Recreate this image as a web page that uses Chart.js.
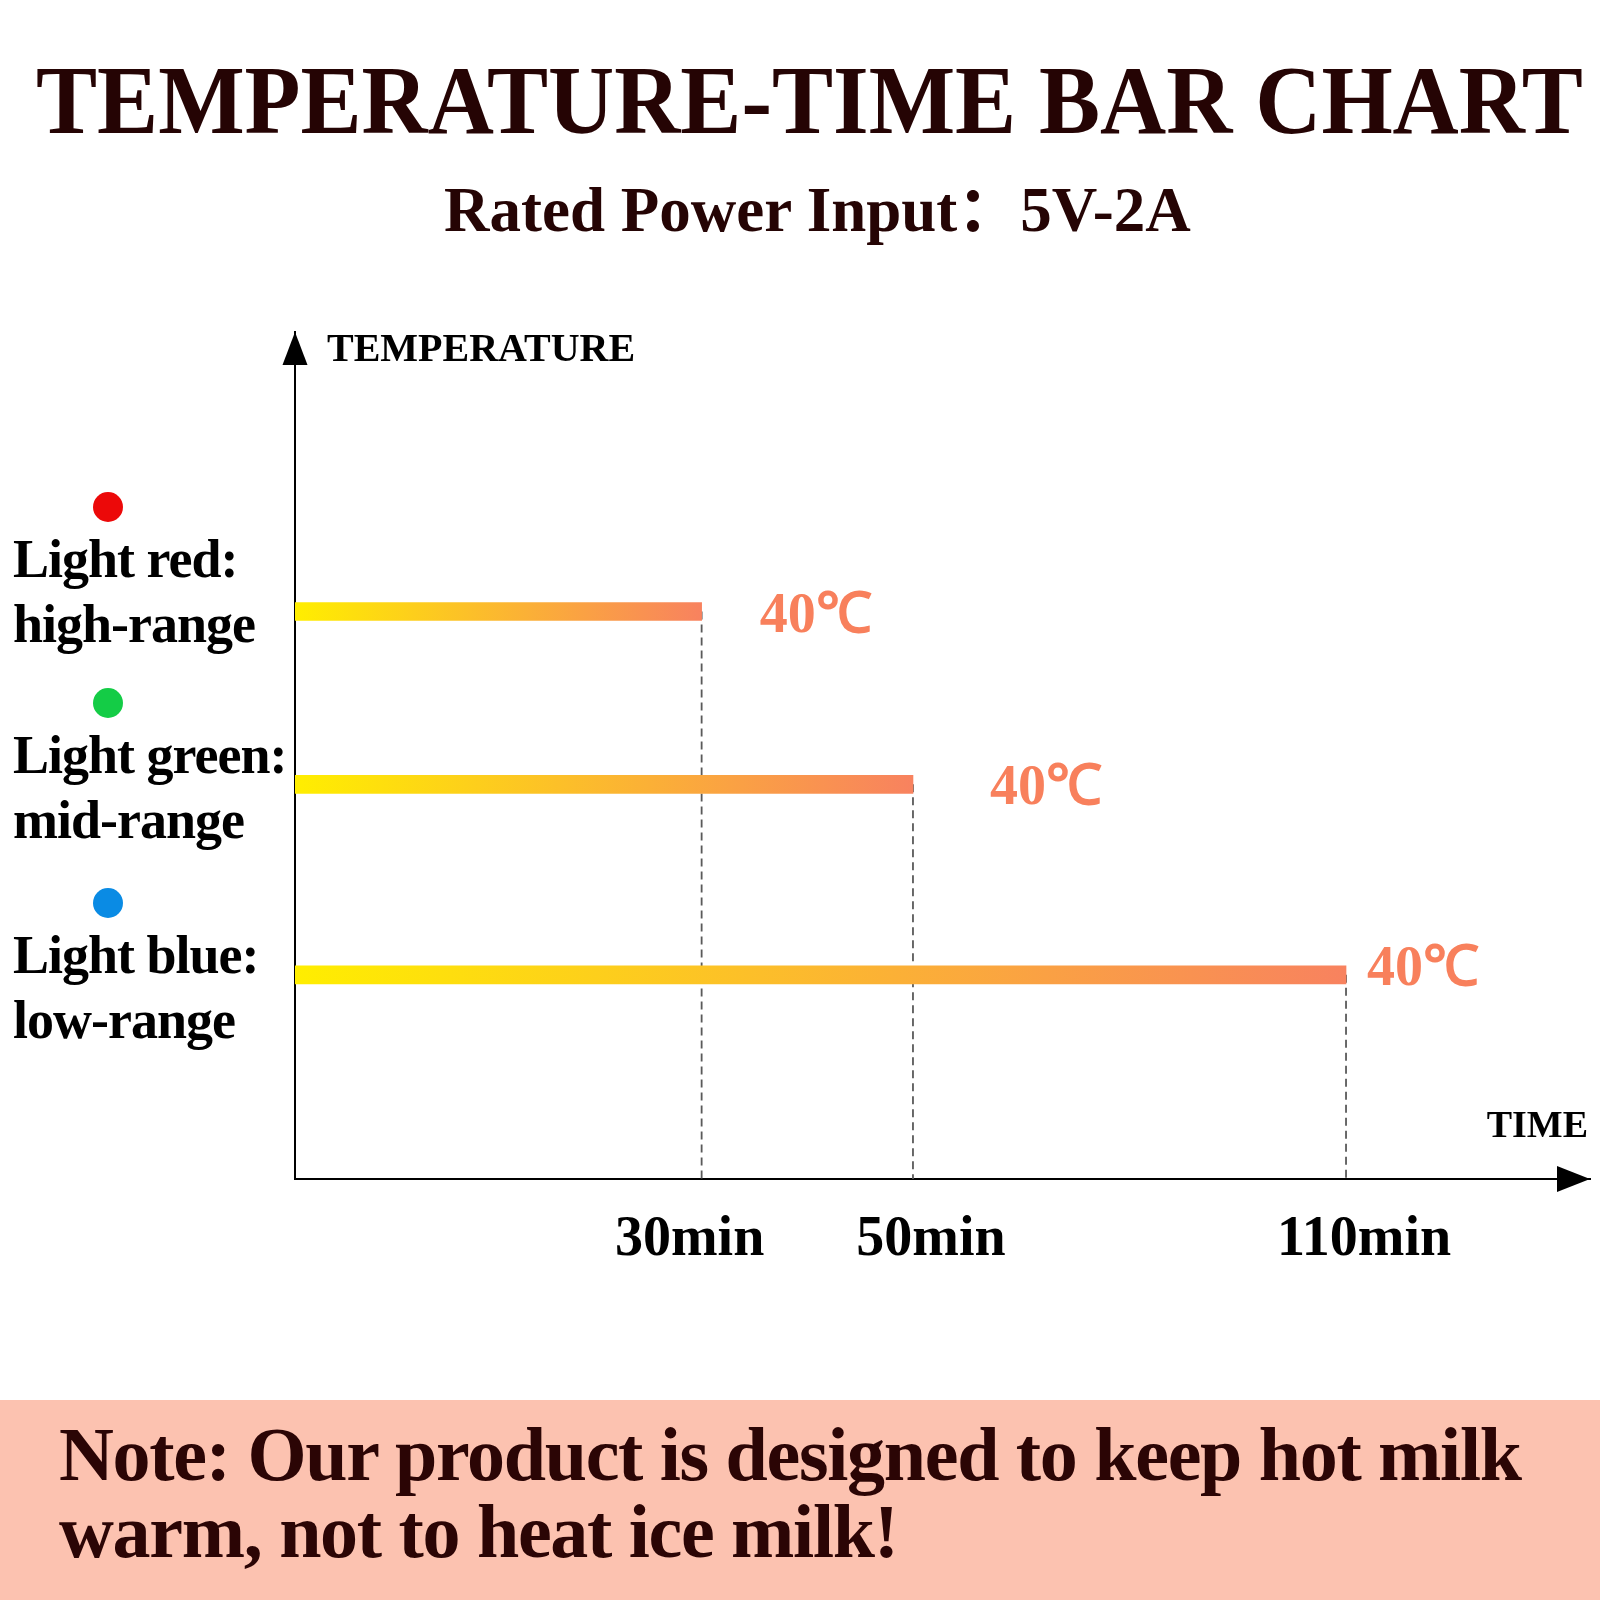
<!DOCTYPE html>
<html>
<head>
<meta charset="utf-8">
<script src="https://cdn.jsdelivr.net/npm/chart.js@4.4.1/dist/chart.umd.min.js"></script>
<style>
  html, body { margin: 0; padding: 0; background: #ffffff; }
  #wrap { position: relative; width: 1600px; height: 1600px; overflow: hidden; background: #ffffff; }
  #band { position: absolute; left: 0; top: 1400px; width: 1600px; height: 200px; background: #FCC2B0; }
  #chart { position: absolute; left: 0; top: 0; }
  .serif { font-family: 'Liberation Serif', 'Noto Sans CJK SC', serif; font-weight: bold; }
  #title { position: absolute; left: 36px; top: 52px; font-size: 97px; line-height: 1; color: #250404; white-space: nowrap; transform: scaleX(0.944); transform-origin: 0 0; }
  #subtitle { position: absolute; left: 444px; top: 179px; font-size: 63px; line-height: 1; color: #250404; white-space: nowrap; }
  #note { position: absolute; left: 59px; top: 1416px; font-size: 76px; line-height: 77px; letter-spacing: -1.3px; color: #2B0505; white-space: nowrap; }
</style>
</head>
<body>
<div id="wrap">
  <div id="band"></div>
  <canvas id="chart" width="1600" height="1600"></canvas>
  <div id="title" class="serif">TEMPERATURE-TIME BAR CHART</div>
  <div id="subtitle" class="serif">Rated Power Input：5V-2A</div>
  <div id="note" class="serif">Note: Our product is designed to keep hot milk<br>warm, not to heat ice milk!</div>
</div>
<script>
// ---- data ----
const rangeTitles = ['Light red:', 'Light green:', 'Light blue:'];
const rangeNames = ['high-range', 'mid-range', 'low-range'];
const holdMinutes = [30, 50, 110];          // bar length (time)
const tempLevels = [67, 46.6, 24.1];        // bar height on the temperature axis (relative level)
const tempLabels = ['40℃', '40℃', '40℃'];
const tickValues = [30, 50, 110];
const tickLabels = ['30min', '50min', '110min'];
const axisTitleY = 'TEMPERATURE';
const axisTitleX = 'TIME';

// ---- styles ----
const FONT = "'Liberation Serif', 'Times New Roman', serif";
const dotColors = ['#EC0909', '#14CC46', '#0A8BE4'];
const legendDotY = [507, 703, 903];
const labelDx = [58, 77, 21];
const labelDy = [20, 20, 10];
const tickLabelShift = [-12, 18, 18];
const barStart = '#FFEE00';
const barEnd = '#F8825F';
const labelColor = '#F8805C';

// A linear scale whose value->pixel mapping is piecewise linear between break points
class PiecewiseScale extends Chart.LinearScale {
  static id = 'piecewise';
  _frac(value) {
    const bv = this.options.breakValues, bf = this.options.breakFractions;
    if (value <= bv[0]) return bf[0];
    for (let i = 1; i < bv.length; i++) {
      if (value <= bv[i]) {
        const t = (value - bv[i - 1]) / (bv[i] - bv[i - 1]);
        return bf[i - 1] + t * (bf[i] - bf[i - 1]);
      }
    }
    const n = bv.length - 1;
    return bf[n] + (value - bv[n]) * (bf[n] - bf[n - 1]) / (bv[n] - bv[n - 1]);
  }
  getPixelForValue(value) {
    if (value === null || value === undefined || isNaN(value)) return NaN;
    return this.getPixelForDecimal(this._frac(value));
  }
  getValueForPixel(pixel) {
    const d = this.getDecimalForPixel(pixel);
    const bv = this.options.breakValues, bf = this.options.breakFractions;
    for (let i = 1; i < bf.length; i++) {
      if (d <= bf[i]) return bv[i - 1] + (d - bf[i - 1]) / (bf[i] - bf[i - 1]) * (bv[i] - bv[i - 1]);
    }
    return bv[bv.length - 1];
  }
  _computeLabelItems(chartArea) {
    const items = super._computeLabelItems(chartArea);
    items.forEach((it, i) => {
      const s = tickLabelShift[i] || 0;
      if (it && it.options && Array.isArray(it.options.translation)) it.options.translation[0] += s;
    });
    return items;
  }
}
Chart.register(PiecewiseScale);

const annotations = {
  id: 'annotations',
  afterDraw(chart) {
    const { ctx, chartArea: ca, scales: { x, y } } = chart;
    ctx.save();
    ctx.fillStyle = '#000';
    // y axis arrow
    ctx.beginPath();
    ctx.moveTo(ca.left, ca.top);
    ctx.lineTo(ca.left - 12.5, ca.top + 33);
    ctx.lineTo(ca.left + 12.5, ca.top + 33);
    ctx.closePath();
    ctx.fill();
    // x axis arrow
    ctx.beginPath();
    ctx.moveTo(ca.right, ca.bottom);
    ctx.lineTo(ca.right - 33, ca.bottom - 13);
    ctx.lineTo(ca.right - 33, ca.bottom + 13);
    ctx.closePath();
    ctx.fill();
    // axis titles
    ctx.font = 'bold 40px ' + FONT;
    ctx.textBaseline = 'alphabetic';
    ctx.textAlign = 'left';
    ctx.fillText(axisTitleY, ca.left + 32, ca.top + 29);
    ctx.font = 'bold 38px ' + FONT;
    ctx.textAlign = 'right';
    ctx.fillText(axisTitleX, ca.right - 2, ca.bottom - 42);
    // legend
    ctx.textAlign = 'left';
    ctx.font = 'bold 54px ' + FONT;
    try { ctx.letterSpacing = '-1px'; } catch (e) {}
    for (let i = 0; i < rangeTitles.length; i++) {
      ctx.fillStyle = dotColors[i];
      ctx.beginPath();
      ctx.arc(108, legendDotY[i], 15, 0, Math.PI * 2);
      ctx.fill();
      ctx.fillStyle = '#000';
      ctx.fillText(rangeTitles[i], 13, legendDotY[i] + 70);
      ctx.fillText(rangeNames[i], 13, legendDotY[i] + 135);
    }
    try { ctx.letterSpacing = '0px'; } catch (e) {}
    // value labels
    ctx.fillStyle = labelColor;
    ctx.font = 'bold 56px ' + FONT;
    for (let i = 0; i < holdMinutes.length; i++) {
      const px = x.getPixelForValue(holdMinutes[i]) + labelDx[i];
      const py = y.getPixelForValue(tempLevels[i]) + labelDy[i];
      ctx.fillText(tempLabels[i], px, py);
    }
    ctx.restore();
  }
};

const barData = holdMinutes.map((m, i) => ({ x: m, y: tempLevels[i] }));
const dashedSets = holdMinutes.map((m, i) => ({
  type: 'line',
  data: [{ x: m, y: tempLevels[i] }, { x: m, y: 0 }],
  borderColor: '#5a5a5a',
  borderWidth: 1.8,
  borderDash: [8, 5],
  pointRadius: 0,
  fill: false,
  order: 1
}));

new Chart(document.getElementById('chart'), {
  type: 'bar',
  data: {
    datasets: [{
      type: 'bar',
      data: barData,
      barThickness: 18,
      borderWidth: 0,
      order: 0,
      backgroundColor: (c) => {
        const chart = c.chart;
        const xs = chart.scales.x;
        if (!chart.chartArea || c.type !== 'data' || !xs) return barEnd;
        const x0 = xs.getPixelForValue(0);
        const x1 = xs.getPixelForValue(holdMinutes[c.dataIndex]);
        const g = chart.ctx.createLinearGradient(x0, 0, x1, 0);
        g.addColorStop(0, barStart);
        g.addColorStop(1, barEnd);
        return g;
      }
    }, ...dashedSets]
  },
  options: {
    indexAxis: 'y',
    responsive: false,
    devicePixelRatio: 1,
    animation: false,
    events: [],
    layout: { padding: { left: 295, top: 332, right: 10, bottom: 321 } },
    plugins: { legend: { display: false }, tooltip: { enabled: false }, title: { display: false } },
    scales: {
      x: {
        type: 'piecewise',
        position: 'bottom',
        min: 0,
        max: 144,
        offset: false,
        breakValues: [0, 30, 50, 110, 144],
        breakFractions: [0, 0.3140, 0.4772, 0.8116, 1],
        grid: { display: false, drawTicks: false, offset: false },
        border: { display: true, color: '#000', width: 2 },
        ticks: {
          autoSkip: false,
          maxRotation: 0,
          minRotation: 0,
          padding: 28,
          color: '#000',
          font: { family: FONT, weight: 'bold', size: 56 },
          callback: (v) => { const k = tickValues.indexOf(v); return k >= 0 ? tickLabels[k] : ''; }
        },
        afterBuildTicks: (s) => { s.ticks = tickValues.map(v => ({ value: v })); },
        afterFit: (s) => { s.height = 100; }
      },
      y: {
        type: 'linear',
        position: 'left',
        min: 0,
        max: 100,
        offset: false,
        grid: { display: false, drawTicks: false, offset: false },
        border: { display: true, color: '#000', width: 2 },
        ticks: { display: false },
        afterFit: (s) => { s.width = 0; }
      }
    }
  },
  plugins: [annotations]
});
</script>
</body>
</html>
